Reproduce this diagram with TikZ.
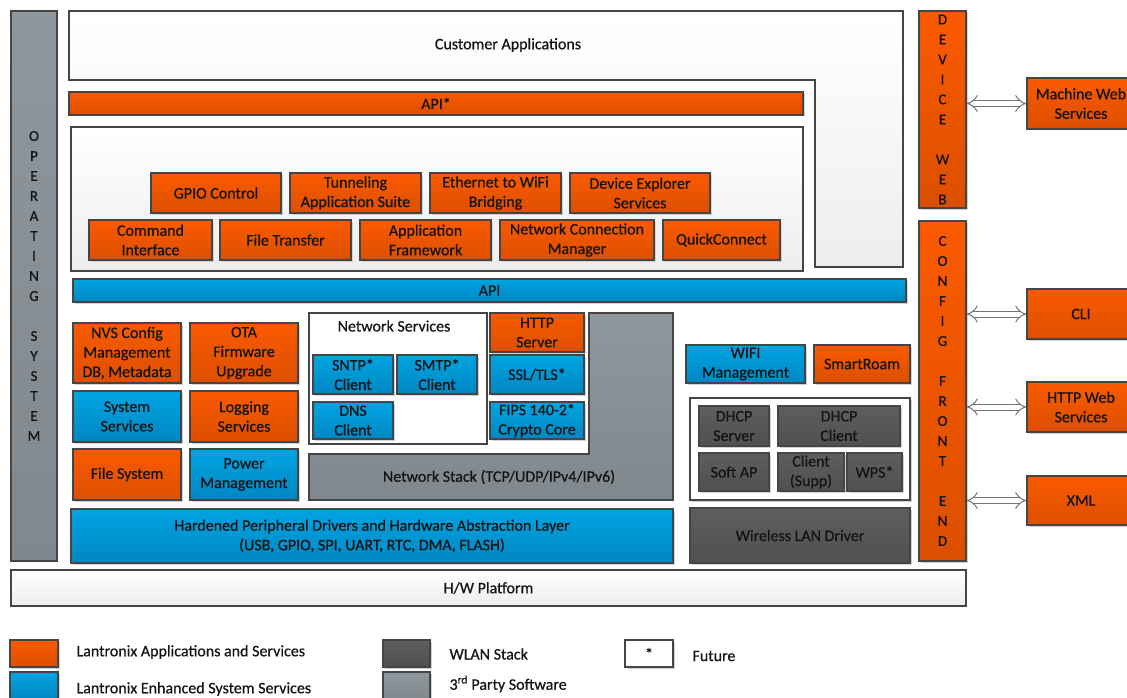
\documentclass[tikz,border=0pt]{standalone}
\usepackage{fontspec}
\setmainfont{Carlito}[FakeBold=0.6]
\usetikzlibrary{arrows.meta}

\definecolor{orTop}{HTML}{FA5A00}
\definecolor{orBot}{HTML}{DC4F00}
\definecolor{blTop}{HTML}{00A4E2}
\definecolor{blBot}{HTML}{0087C2}
\definecolor{dgTop}{HTML}{5E5E5E}
\definecolor{dgBot}{HTML}{505050}
\definecolor{mgTop}{HTML}{8E979D}
\definecolor{mgBot}{HTML}{80888E}
\definecolor{edge}{HTML}{454545}
\definecolor{txt}{HTML}{141414}

\tikzset{
  blk/.style={draw=edge, line width=1.1pt, text=txt, align=center, inner sep=1pt,
    font=\fontsize{16}{19.5}\selectfont},
  shd/.style={preaction={draw=none, fill=black!18, transform canvas={shift={(1.5pt,-1.5pt)}}}},
  obox/.style={blk, shd, top color=orTop, bottom color=orBot},
  bbox/.style={blk, shd, top color=blTop, bottom color=blBot},
  dbox/.style={blk, shd, top color=dgTop, bottom color=dgBot},
  gbox/.style={blk, top color=mgTop, bottom color=mgBot},
  wbox/.style={blk, top color=white, bottom color=black!7},
  lbl/.style={text=txt, font=\fontsize{16}{19.5}\selectfont},
  vlet/.style={font=\fontsize{15}{20}\selectfont},
  dblarrow/.style={draw=black!55, line width=1pt, double=white, double distance=5pt,
    {Implies}-{Implies}}
}

\begin{document}
\begin{tikzpicture}[x=1pt, y=-1pt]
\useasboundingbox (0,0) rectangle (1127,698);

%左
\node[gbox, minimum width=46, minimum height=550, vlet] (os) at (34,286)
  {O\\P\\E\\R\\A\\T\\I\\N\\G\\[20pt]S\\Y\\S\\T\\E\\M};

%上
\draw[wbox] (69,11) -- (903,11) -- (903,267) -- (815,267) -- (815,80) -- (69,80) -- cycle;
\node[lbl] (cust) at (508,45) {Customer Applications};
\node[obox, minimum width=734, minimum height=23] (apistar) at (436,103.5) {API*};
\node[wbox, minimum width=732, minimum height=144] (appframe) at (437,199) {};
\node[obox, minimum width=130, minimum height=40] (gpio) at (216,193) {GPIO Control};
\node[obox, minimum width=131, minimum height=40] (tunnel) at (355.5,193) {Tunneling\\Application Suite};
\node[obox, minimum width=131, minimum height=40] (bridge) at (495.5,193) {Ethernet to WiFi\\Bridging};
\node[obox, minimum width=140, minimum height=40] (devexp) at (640,193) {Device Explorer\\Services};
\node[obox, minimum width=123, minimum height=40] (cmd) at (150.5,240) {Command\\Interface};
\node[obox, minimum width=131, minimum height=40] (ftrans) at (285.5,240) {File Transfer};
\node[obox, minimum width=131, minimum height=40] (appfw) at (425.5,240) {Application\\Framework};
\node[obox, minimum width=154, minimum height=40] (netconn) at (577,240) {Network Connection\\Manager};
\node[obox, minimum width=117, minimum height=40] (qconn) at (721.5,240) {QuickConnect};
\node[bbox, minimum width=833, minimum height=23] (api) at (489.5,290.5) {API};

%中
\node[obox, minimum width=108, minimum height=60] (nvs) at (127,353) {NVS Config\\Management\\DB, Metadata};
\node[obox, minimum width=108, minimum height=60] (ota) at (244,353) {OTA\\Firmware\\Upgrade};
\node[bbox, minimum width=108, minimum height=51] (syssvc) at (127,416.5) {System\\Services};
\node[obox, minimum width=108, minimum height=51] (logsvc) at (244,416.5) {Logging\\Services};
\node[obox, minimum width=108, minimum height=51] (fsys) at (127,474.5) {File System};
\node[bbox, minimum width=108, minimum height=51] (power) at (244,474.5) {Power\\Management};

\draw[gbox] (309,454) -- (589,454) -- (589,313) -- (673,313) -- (673,500) -- (309,500) -- cycle;
\node[lbl] (netstack) at (499,477) {Network Stack (TCP/UDP/IPv4/IPv6)};
\node[blk, fill=white, minimum width=178, minimum height=131] (netsvc) at (398,378.5) {};
\node[lbl] (netsvclbl) at (394,326) {Network Services};
\node[bbox, minimum width=80, minimum height=39] (sntp) at (353,374.5) {SNTP*\\Client};
\node[bbox, minimum width=80, minimum height=39] (smtp) at (437,374.5) {SMTP*\\Client};
\node[bbox, minimum width=80, minimum height=37] (dns) at (353,420.5) {DNS\\Client};
\node[obox, minimum width=94, minimum height=39] (httpsrv) at (537,332.5) {HTTP\\Server};
\node[bbox, minimum width=94, minimum height=39] (ssl) at (537,374.5) {SSL/TLS*};
\node[bbox, minimum width=94, minimum height=37] (fips) at (537,420.5) {FIPS 140-2*\\Crypto Core};

\node[bbox, minimum width=602, minimum height=54] (hal) at (372,536)
  {Hardened Peripheral Drivers and Hardware Abstraction Layer\\(USB, GPIO, SPI, UART, RTC, DMA, FLASH)};
\node[wbox, minimum width=955, minimum height=36] (hw) at (488.5,588) {H/W Platform};

%WLAN
\node[bbox, minimum width=119, minimum height=38] (wifi) at (745.5,364) {WIFI\\Management};
\node[obox, minimum width=96, minimum height=38] (sroam) at (862,364) {SmartRoam};
\node[blk, fill=white, shd, minimum width=220, minimum height=102] (wlan) at (800,449) {};
\node[dbox, minimum width=70, minimum height=40] (dhcps) at (734,426) {DHCP\\Server};
\node[dbox, minimum width=122, minimum height=40] (dhcpc) at (839,426) {DHCP\\Client};
\node[dbox, minimum width=70, minimum height=38] (softap) at (734,472) {Soft AP};
\node[dbox, minimum width=66, minimum height=38] (supp) at (811,472) {Client\\(Supp)};
\node[dbox, minimum width=55, minimum height=38] (wps) at (874.5,472) {WPS*};
\node[dbox, minimum width=220, minimum height=55] (wdrv) at (800,535.5) {Wireless LAN Driver};

%右
\node[obox, minimum width=47, minimum height=197, vlet] (devweb) at (942.5,109.5)
  {D\\E\\V\\I\\C\\E\\[20pt]W\\E\\B};
\node[obox, minimum width=47, minimum height=340, vlet] (cfg) at (942.5,391)
  {C\\O\\N\\F\\I\\G\\[20pt]F\\R\\O\\N\\T\\[20pt]E\\N\\D};
\node[obox, minimum width=108, minimum height=51] (mws) at (1081,103.5) {Machine Web\\Services};
\node[obox, minimum width=108, minimum height=50] (cli) at (1081,314) {CLI};
\node[obox, minimum width=108, minimum height=50] (httpws) at (1081,407) {HTTP Web\\Services};
\node[obox, minimum width=108, minimum height=49] (xml) at (1081,500.5) {XML};
\draw[dblarrow] (devweb.east |- mws.west) -- (mws.west);
\draw[dblarrow] (cfg.east |- cli.west) -- (cli.west);
\draw[dblarrow] (cfg.east |- httpws.west) -- (httpws.west);
\draw[dblarrow] (cfg.east |- xml.west) -- (xml.west);

%图例
\node[obox, minimum width=48, minimum height=27] (legor) at (34,653.5) {};
\node[bbox, minimum width=48, minimum height=28] (legbl) at (34,686) {};
\node[lbl, anchor=west] (legortxt) at (73,652) {Lantronix Applications and Services};
\node[lbl, anchor=west] (legbltxt) at (73,689) {Lantronix Enhanced System Services};
\node[dbox, minimum width=47, minimum height=27] (legdg) at (406.5,653.5) {};
\node[gbox, shd, minimum width=47, minimum height=28] (legmg) at (406.5,686) {};
\node[lbl, anchor=west] (legdgtxt) at (446,654) {WLAN Stack};
\node[lbl, anchor=west] (legmgtxt) at (446,684) {3\textsuperscript{rd} Party Software};
\node[blk, fill=white, shd, minimum width=48, minimum height=27] (legfut) at (649,653.5) {*};
\node[lbl, anchor=west] (legfuttxt) at (689,656) {Future};
\end{tikzpicture}
\end{document}
